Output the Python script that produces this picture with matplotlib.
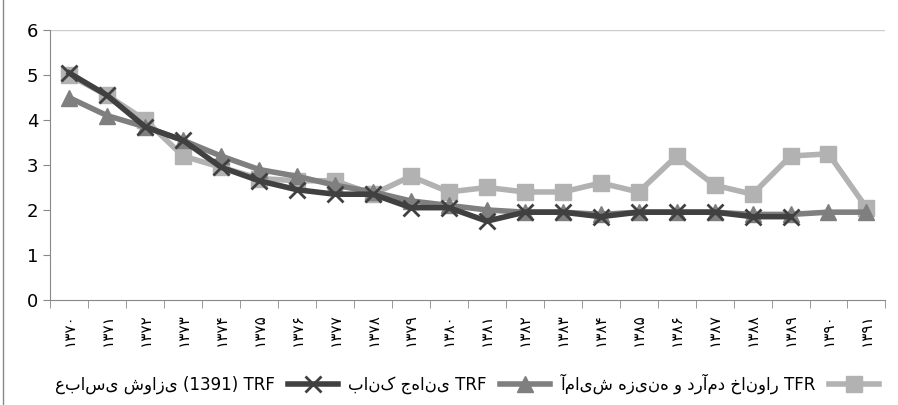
import numpy as np
import matplotlib.pyplot as plt

years = ['۱۳۷۰','۱۳۷۱','۱۳۷۲','۱۳۷۳','۱۳۷۴','۱۳۷۵','۱۳۷۶','۱۳۷۷','۱۳۷۸','۱۳۷۹','۱۳۸۰',
         '۱۳۸۱','۱۳۸۲','۱۳۸۳','۱۳۸۴','۱۳۸۵','۱۳۸۶','۱۳۸۷','۱۳۸۸','۱۳۸۹','۱۳۹۰','۱۳۹۱']
tfr = [5.0,4.55,4.0,3.2,2.95,2.7,2.65,2.65,2.35,2.75,2.4,2.5,2.4,2.4,2.6,2.4,3.2,2.55,2.35,3.2,3.25,2.05]
wb = [4.5,4.1,3.85,3.55,3.2,2.9,2.75,2.55,2.4,2.2,2.1,2.0,1.95,1.95,1.9,1.95,1.95,1.95,1.9,1.9,1.95,1.95]
abbasi = [5.05,4.55,3.85,3.55,2.95,2.65,2.45,2.35,2.35,2.05,2.05,1.75,1.95,1.95,1.85,1.95,1.95,1.95,1.85,1.85]

lab_tfr = 'آمایش هزینه و درآمد خانوار TFR'
lab_wb = 'بانک جهانی TRF'
lab_ab = 'عباسی شوازی (1391) TRF'

fig = plt.figure(figsize=(8.98, 4.05), dpi=100)
ax = fig.add_axes([0.056, 0.26, 0.93, 0.665])
x = np.arange(len(years))
h_ab, = ax.plot(x[:len(abbasi)], abbasi, color='#404040', lw=4, marker='x', ms=11, mew=2, zorder=3)
h_wb, = ax.plot(x, wb, color='#7f7f7f', lw=4, marker='^', ms=11, zorder=2)
h_tfr, = ax.plot(x, tfr, color='#b2b2b2', lw=4, marker='s', ms=11, zorder=1)

ax.set_ylim(0, 6)
ax.set_xlim(-0.5, len(years) - 0.5)
ax.set_yticks(range(7))
ax.set_xticks(x)
ax.set_xticklabels(years, rotation=90, fontsize=11)
ax.set_xticks(np.arange(-0.5, len(years)), minor=True)
ax.tick_params(axis='x', which='major', length=0, pad=10)
ax.tick_params(axis='x', which='minor', length=6, color='#888888')
ax.tick_params(axis='y', length=5, labelsize=13, color='#888888')
ax.axhline(6, color='#cccccc', lw=1)
for s in ['top', 'right']:
    ax.spines[s].set_visible(False)
for s in ['left', 'bottom']:
    ax.spines[s].set_color('#888888')

fig.legend([h_ab, h_wb, h_tfr], [lab_ab, lab_wb, lab_tfr],
           loc='lower center', bbox_to_anchor=(0.52, -0.01), ncol=3, frameon=False,
           markerfirst=False, fontsize=12, handlelength=3, columnspacing=0.6)
fig.add_artist(plt.Line2D([0.003, 0.003], [0, 1], color='#888888', lw=1))
fig.savefig('out.png')
